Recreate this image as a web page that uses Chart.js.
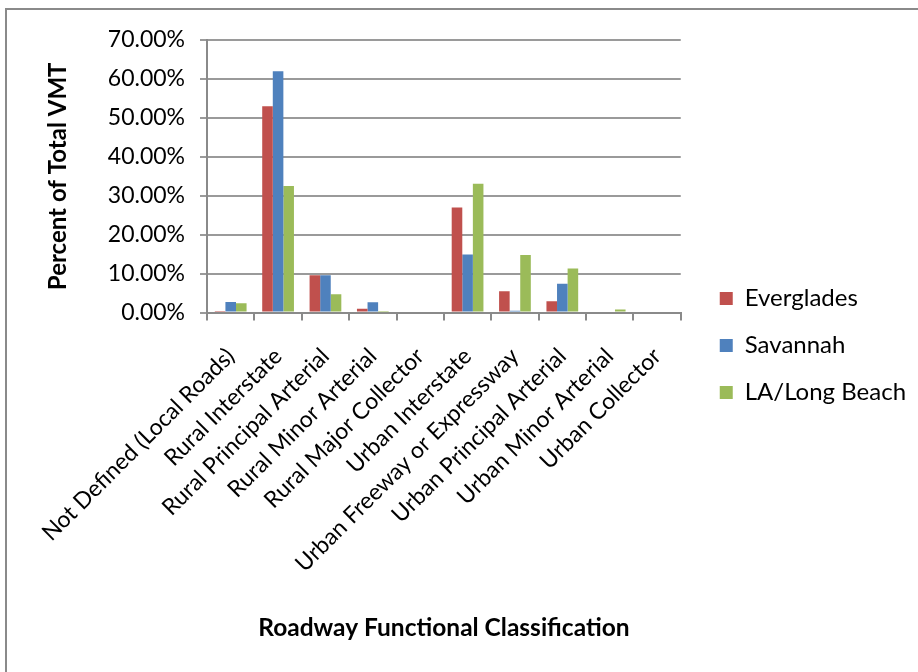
<!DOCTYPE html>
<html>
<head>
<meta charset="utf-8">
<script src="https://cdn.jsdelivr.net/npm/chart.js@4.4.0/dist/chart.umd.min.js"></script>
<style>
  html, body { margin: 0; padding: 0; background: #fff; overflow: hidden; }
  #frame { position: absolute; left: 5px; top: 8px; width: 940px; height: 700px;
           border: 2px solid #8a8a8a; box-sizing: border-box; }
  #wrap { position: absolute; left: 0; top: 0; width: 918px; height: 672px; }
</style>
</head>
<body>
<div id="frame"></div>
<div id="wrap"><canvas id="vmtChart" width="918" height="672"></canvas></div>
<script>
// Categorias (classificação funcional)
const categories = [
  'Not Defined (Local Roads)', 'Rural Interstate', 'Rural Principal Arterial',
  'Rural Minor Arterial', 'Rural Major Collector', 'Urban Interstate',
  'Urban Freeway or Expressway', 'Urban Principal Arterial',
  'Urban Minor Arterial', 'Urban Collector'
];

// Percentual do VMT total por região
const everglades = [0.4, 53.0, 9.6, 1.0, 0, 27.0, 5.5, 2.9, 0, 0];
const savannah   = [2.75, 62.0, 9.6, 2.65, 0, 14.9, 0.5, 7.4, 0, 0];
const laBeach    = [2.4, 32.5, 4.7, 0.1, 0, 33.1, 14.8, 11.3, 0.8, 0];

const seriesNames = ['Everglades', 'Savannah', 'LA/Long Beach'];
const seriesColors = ['#C0504D', '#4F81BD', '#9BBB59'];

const FONT = 'Lato, "Open Sans", sans-serif';

// Afasta a legenda da área do gráfico (como no Excel)
const legendShift = {
  id: 'legendShift',
  afterLayout(chart) {
    const lg = chart.legend;
    lg.left += 16; lg.right += 16;
    lg.top += 4; lg.bottom += 4;
  },
};

const ctx = document.getElementById('vmtChart').getContext('2d');

new Chart(ctx, {
  type: 'bar',
  data: {
    labels: categories,
    datasets: [everglades, savannah, laBeach].map((vals, i) => ({
      label: seriesNames[i],
      data: vals,
      backgroundColor: seriesColors[i],
      borderWidth: 0,
      barPercentage: 1.0,
      categoryPercentage: 0.67,
    })),
  },
  plugins: [legendShift],
  options: {
    responsive: false,
    animation: false,
    layout: { padding: { left: 44, right: 25, top: 40, bottom: 29 } },
    plugins: {
      tooltip: { enabled: false },
      title: {
        display: true,
        position: 'bottom',
        fullSize: false,
        text: 'Roadway Functional Classification',
        color: '#000',
        font: { family: FONT, size: 24.5, weight: 'bold' },
        padding: { top: 14, bottom: 0 },
      },
      legend: {
        position: 'right',
        align: 'center',
        labels: {
          color: '#000',
          font: { family: FONT, size: 24 },
          boxWidth: 13,
          boxHeight: 13,
          padding: 23,
        },
      },
    },
    scales: {
      x: {
        grid: { drawOnChartArea: false, drawTicks: true, tickLength: 8, color: '#8a8a8a', lineWidth: 2, offset: true },
        border: { color: '#8a8a8a', width: 2 },
        ticks: {
          color: '#000',
          font: { family: FONT, size: 23 },
          minRotation: 45,
          maxRotation: 45,
          autoSkip: false,
          padding: 22,
        },
      },
      y: {
        min: 0,
        max: 70,
        grid: { color: '#9a9a9a', lineWidth: 2, tickLength: 7, drawTicks: true },
        border: { color: '#8a8a8a', width: 2 },
        ticks: {
          stepSize: 10,
          color: '#000',
          font: { family: FONT, size: 23 },
          padding: 15,
          callback: (v) => v.toFixed(2) + '%',
        },
        title: {
          display: true,
          text: 'Percent of Total VMT',
          color: '#000',
          font: { family: FONT, size: 24, weight: 'bold' },
          padding: { top: 0, bottom: 20 },
        },
      },
    },
  },
});
</script>
</body>
</html>
